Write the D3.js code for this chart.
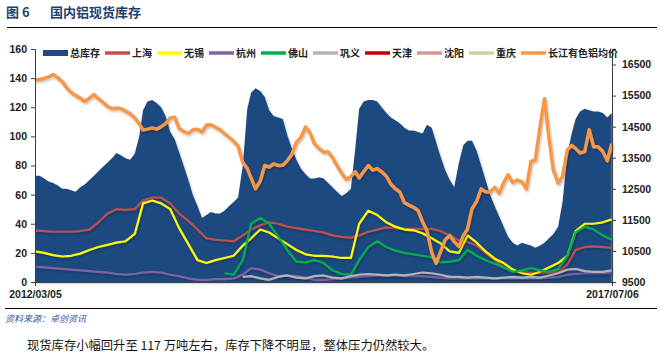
<!DOCTYPE html>
<html>
<head>
<meta charset="utf-8">
<script src="https://cdn.jsdelivr.net/npm/d3@7/dist/d3.min.js"></script>
<style>
  body { margin: 0; background: #fff; }
  svg { display: block; }
</style>
</head>
<body>
<div id="chart"></div>
<script>
// 2012/03 - 2017/07: 地区库存为月度数据 (每月 5 日), 总库存和价格为半月数据
var months = d3.range(65).map(function(m) { return new Date(2012, 2 + m, 5); });
var halfMonths = d3.range(129).map(function(k) { return new Date(2012, 2 + Math.floor(k / 2), k % 2 ? 20 : 5); });

var total = [73, 73, 71, 69, 68, 66.5, 64, 64, 63, 62, 65, 67, 70, 73, 76, 79,
  82, 85, 88.5, 87, 85, 84, 88, 100, 118, 124, 125, 123, 120, 114, 103, 98,
  89, 80, 70, 60, 52, 44, 46, 48, 47, 47, 49, 52, 55, 58, 80, 119,
  130, 133, 131, 127, 118, 114, 113, 112, 101, 92, 84, 78, 74, 71, 71, 72,
  71, 68, 65, 62, 59, 61, 64, 92, 119, 124, 125, 125, 124, 120, 116, 113,
  111, 109, 106, 104, 104, 103, 102, 108, 106, 96, 86, 77, 70, 65, 82, 94,
  97, 97, 90, 80, 70, 60, 52, 45, 38, 31, 27, 25, 27, 26, 25, 23.5,
  25, 27, 30, 33, 38, 55, 88, 102, 112, 117, 119, 118, 117, 117, 116, 113,
  116];
var shanghai = [35.5, 35, 34.5, 34.5, 34.5, 35, 36, 41, 47, 50, 49.5, 50, 56, 58, 58, 54, 47, 42, 36, 30,
  29, 28.5, 28, 32, 36, 39, 41, 40, 38, 37, 36, 35, 34, 32, 31, 30.5, 32, 34.5, 36, 37.5,
  37, 36.5, 36.5, 36.5, 36.5, 35, 32, 28.5, 27.5, 25, 20, 15, 10, 8, 7, 6.5, 6, 6.5, 7, 12,
  22, 24, 24.5, 24, 23.5];
var wuxi = [21, 20, 18.5, 17.5, 18, 19.5, 22, 24, 25.5, 27, 28, 33, 54, 56, 54, 50, 37, 26, 15, 13,
  15, 16.5, 18, 25, 30, 36, 34, 30, 26, 22, 19, 18, 18, 17.5, 16.5, 16.5, 40, 49, 46, 41,
  38, 36, 35.5, 33.5, 30, 26.5, 21, 20, 32, 27, 21, 16, 13, 8.5, 6, 5, 7, 10, 13, 18,
  35, 40, 40, 41, 43];
var hangzhou = [10.5, 10, 9.5, 9, 8.5, 8, 7.5, 7, 6.5, 5.5, 5, 5.5, 6.5, 7, 6.5, 5, 4, 2.5, 1.5, 1.5,
  2, 2, 2.5, 5, 9.5, 8.5, 6, 4, 4.5, 4, 3, 1.5, 1.5, 2, 2.5, 3, 3.5, 4, 4.5, 4.5,
  4.5, 4, 4, 4, 3.5, 3, 2.5, 2.5, 2.5, 2.5, 2.5, 2.5, 2.5, 2.5, 2.5, 2.5, 2.5, 3, 3.5, 5,
  5.5, 6, 6, 6, 6.5];
var foshan = [null, null, null, null, null, null, null, null, null, null, null, null, null, null, null, null, null, null, null, null,
  null, 6, 5, 15, 40, 44, 40, 31, 22, 14, 13.5, 15, 13, 8, 5.5, 5, 15, 24, 28, 24,
  21.5, 20, 19, 18, 17, 13.5, 14, 15, 22, 18, 15, 12.5, 10, 7, 8, 9.5, 8, 7, 9, 18,
  34, 38, 36, 32, 29];
var gongyi = [null, null, null, null, null, null, null, null, null, null, null, null, null, null, null, null, null, null, null, null,
  null, null, null, 3.5, 4, 2.5, 1.5, 3.5, 4.5, 3, 2.5, 4, 4.5, 3, 2.5, 4, 5, 5.5, 5, 4.5,
  5, 4.5, 5.5, 6.5, 6, 5, 3.5, 3.5, 3, 3.5, 3, 2.5, 3, 3.5, 3, 3.5, 3, 4.5, 6, 8.5,
  9, 7.5, 7, 7, 8];
var tianjin = [];
var shenyang = [];
var chongqing = [];
var price = [16000, 16020, 16050, 16100, 16180, 16080, 15950, 15750, 15600, 15500, 15420, 15310, 15420, 15530, 15400, 15290,
  15150, 15080, 15100, 15080, 15000, 14920, 14780, 14600, 14390, 14420, 14460, 14420, 14500, 14600, 14780, 14800,
  14440, 14350, 14280, 14400, 14420, 14330, 14550, 14560, 14480, 14400, 14280, 14160, 14030, 13880, 13350, 13150,
  12850, 12500, 12750, 13250, 13200, 13300, 13250, 13260, 13400, 13600, 14000, 14150, 14490, 14300, 13950, 13800,
  13680, 13690, 13500, 13250, 13000, 12800, 12900, 13050, 12850, 13050, 13250, 13100, 13150, 13050, 12900, 12650,
  12500, 12400, 12050, 11975, 11900, 11800, 11440, 11150, 10450, 10100, 10475, 10850, 11000, 10800, 10640, 11000,
  11200, 11850, 12100, 12500, 12400, 12400, 12550, 12350, 12700, 12950, 12700, 12780, 12720, 12500, 13380, 13420,
  14500, 15400, 14150, 13100, 12680, 12900, 13750, 13900, 13800, 13650, 13700, 14400, 13850, 13850, 13700, 13400,
  13950];

var leftTicks = [0, 20, 40, 60, 80, 100, 120, 140, 160];
var rightTicks = [9500, 10500, 11500, 12500, 13500, 14500, 15500, 16500];

var series = [
  {name: "总库存", color: "#1F4A80", data: total, area: true},
  {name: "上海", color: "#C0504D", data: shanghai},
  {name: "无锡", color: "#FFFF00", data: wuxi},
  {name: "杭州", color: "#8064A2", data: hangzhou},
  {name: "佛山", color: "#00B050", data: foshan},
  {name: "巩义", color: "#B3B3B3", data: gongyi},
  {name: "天津", color: "#C00000", data: tianjin},
  {name: "沈阳", color: "#D99694", data: shenyang},
  {name: "重庆", color: "#C3D69B", data: chongqing},
  {name: "长江有色铝均价", color: "#F79646", data: price, right: true}
];

var W = 663, H = 358;
var margin = {top: 49, right: 51, bottom: 76, left: 35};
var width = W - margin.left - margin.right,
    height = H - margin.top - margin.bottom;

var svg = d3.select("#chart").append("svg")
    .attr("width", W)
    .attr("height", H);

var defs = svg.append("defs");
var f = defs.append("filter").attr("id", "shadow")
    .attr("x", "-5%").attr("y", "-5%").attr("width", "110%").attr("height", "110%");
f.append("feDropShadow").attr("dx", 1).attr("dy", 1.5).attr("stdDeviation", 1.2)
    .attr("flood-color", "#000").attr("flood-opacity", 0.25);

// 标题
svg.append("text").attr("x", 6).attr("y", 17)
    .style("font-family", "'Noto Sans CJK SC', sans-serif").style("font-weight", "bold")
    .style("font-size", "13px").style("fill", "#1F3F6E")
    .text("图 6");
svg.append("text").attr("x", 50).attr("y", 17)
    .style("font-family", "'Noto Sans CJK SC', sans-serif").style("font-weight", "bold")
    .style("font-size", "13px").style("fill", "#1F3F6E")
    .text("国内铝现货库存");
svg.append("line").attr("x1", 7).attr("x2", 657).attr("y1", 27.5).attr("y2", 27.5)
    .attr("stroke", "#000").attr("stroke-width", 1.2);

var g = svg.append("g")
    .attr("transform", "translate(" + margin.left + "," + margin.top + ")");

var x = d3.scaleTime()
    .domain([new Date(2012, 2, 5), new Date(2017, 6, 6)])
    .range([0, width]);
var yL = d3.scaleLinear().domain([0, 160]).range([height, 0]);
var yR = d3.scaleLinear().domain([9500, 17000]).range([height, 0]);

// 总库存面积
var area = d3.area()
    .x(function(d, i) { return x(halfMonths[i]); })
    .y0(yL(0))
    .y1(function(d) { return yL(d); });
g.append("path")
    .datum(total)
    .attr("d", area)
    .attr("fill", "#1F4A80")
    .attr("filter", "url(#shadow)");

// 各地区库存曲线
series.filter(function(s) { return !s.area && !s.right; }).forEach(function(s) {
  var line = d3.line()
      .defined(function(d) { return d != null; })
      .x(function(d, i) { return x(months[i]); })
      .y(function(d) { return yL(d); });
  g.append("path")
      .datum(s.data)
      .attr("d", line)
      .attr("fill", "none")
      .attr("stroke", s.color)
      .attr("stroke-width", 2.2)
      .attr("stroke-linejoin", "round")
      .attr("filter", "url(#shadow)");
});

// 铝价
var priceLine = d3.line()
    .x(function(d, i) { return x(halfMonths[i]); })
    .y(function(d) { return yR(d); });
g.append("path")
    .datum(price)
    .attr("d", priceLine)
    .attr("fill", "none")
    .attr("stroke", "#F79646")
    .attr("stroke-width", 3.5)
    .attr("stroke-linejoin", "round")
    .attr("filter", "url(#shadow)");

// 坐标轴
var tickFont = "'Liberation Sans', Arial, sans-serif";
var axL = g.append("g")
    .call(d3.axisLeft(yL).tickValues(leftTicks).tickSize(4).tickPadding(4));
var axR = g.append("g")
    .attr("transform", "translate(" + width + ",0)")
    .call(d3.axisRight(yR).tickValues(rightTicks).tickSize(4).tickPadding(6).tickFormat(d3.format("d")));
var axB = g.append("g")
    .attr("transform", "translate(0," + height + ")")
    .call(d3.axisBottom(x).tickValues([new Date(2012, 2, 5), new Date(2017, 6, 6)])
      .tickSize(4).tickPadding(5).tickFormat(d3.timeFormat("%Y/%m/%d")));
[axL, axR, axB].forEach(function(a) {
  a.select(".domain").attr("stroke", "#404040");
  a.selectAll(".tick line").attr("stroke", "#404040");
  a.selectAll("text")
      .style("font-family", tickFont).style("font-weight", "bold")
      .style("font-size", "10.5px").style("fill", "#222");
});

// 图例
var legend = svg.append("g").attr("transform", "translate(43,53)");
var lx = 0;
series.forEach(function(s) {
  var item = legend.append("g").attr("transform", "translate(" + lx + ",0)");
  item.append("line").attr("x1", 0).attr("x2", 25).attr("y1", 0).attr("y2", 0)
      .attr("stroke", s.color).attr("stroke-width", s.area ? 6 : 3.5);
  var t = item.append("text").attr("x", 27).attr("y", 4)
      .style("font-family", "'Noto Sans CJK SC', sans-serif").style("font-weight", "bold")
      .style("font-size", "10px").style("fill", "#222")
      .text(s.name);
  lx += 27 + t.node().getComputedTextLength() + 5;
});

// 资料来源
svg.append("line").attr("x1", 5).attr("x2", 657).attr("y1", 308.5).attr("y2", 308.5)
    .attr("stroke", "#000").attr("stroke-width", 1.2);
svg.append("text").attr("x", 5).attr("y", 322)
    .style("font-family", "'Noto Sans CJK SC', sans-serif").style("font-style", "italic")
    .style("font-size", "9px").style("fill", "#2E5597")
    .text("资料来源：卓创资讯");
svg.append("text").attr("x", 27).attr("y", 350)
    .style("font-family", "'Noto Sans CJK SC', sans-serif")
    .style("font-size", "12.3px").style("fill", "#111")
    .text("现货库存小幅回升至 117 万吨左右，库存下降不明显，整体压力仍然较大。");
</script>
</body>
</html>
